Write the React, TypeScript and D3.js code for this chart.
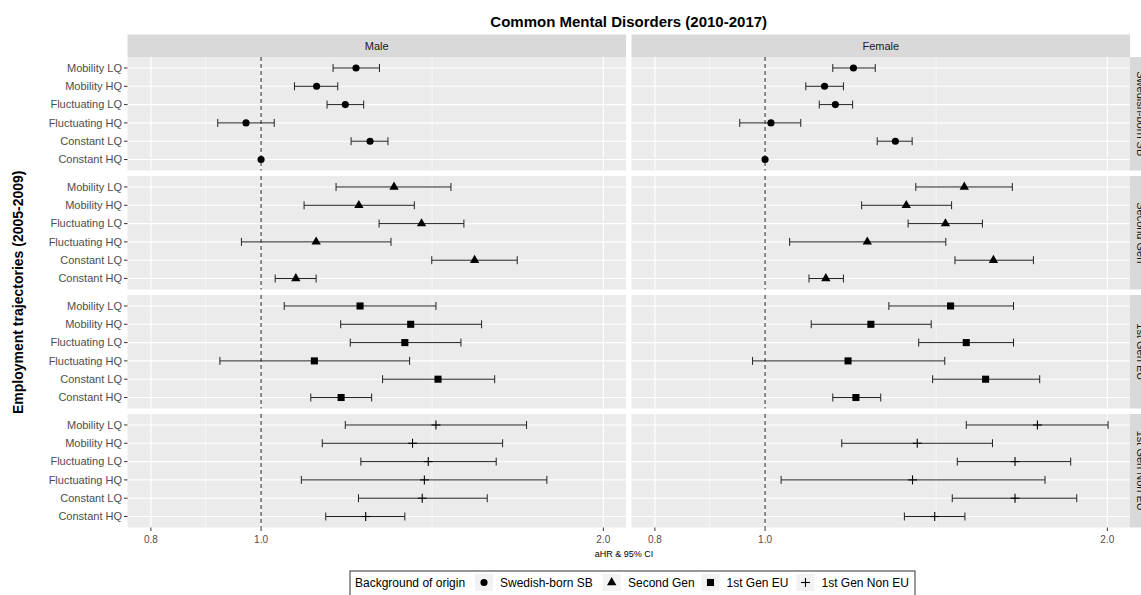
import * as d3 from "d3";

const trajectories = [
  "Mobility LQ",
  "Mobility HQ",
  "Fluctuating LQ",
  "Fluctuating HQ",
  "Constant LQ",
  "Constant HQ",
];
const origins = ["Swedish-born SB", "Second Gen", "1st Gen EU", "1st Gen Non EU"];
const sexes = ["Male", "Female"];
const xTicks = [0.8, 1.0, 2.0];
const xMinor = [0.894, 1.414];

// rows = origins, columns = trajectories (null = reference category)
const maleEst = [
  [1.212, 1.119, 1.186, 0.97, 1.247, 1.0],
  [1.309, 1.219, 1.384, 1.118, 1.541, 1.073],
  [1.222, 1.354, 1.338, 1.114, 1.431, 1.176],
  [1.425, 1.359, 1.403, 1.392, 1.386, 1.236],
];
const maleLo = [
  [1.157, 1.07, 1.143, 0.916, 1.2, null],
  [1.164, 1.091, 1.27, 0.961, 1.413, 1.029],
  [1.048, 1.175, 1.198, 0.92, 1.279, 1.106],
  [1.186, 1.132, 1.224, 1.085, 1.218, 1.14],
];
const maleHi = [
  [1.271, 1.168, 1.231, 1.027, 1.293, null],
  [1.469, 1.364, 1.508, 1.301, 1.68, 1.118],
  [1.425, 1.563, 1.499, 1.351, 1.605, 1.251],
  [1.712, 1.631, 1.61, 1.784, 1.581, 1.338],
];
const femaleEst = [
  [1.196, 1.128, 1.153, 1.012, 1.302, 1.0],
  [1.497, 1.331, 1.441, 1.23, 1.588, 1.131],
  [1.456, 1.239, 1.503, 1.183, 1.563, 1.202],
  [1.736, 1.361, 1.659, 1.348, 1.659, 1.41],
];
const femaleLo = [
  [1.147, 1.086, 1.116, 0.95, 1.255, null],
  [1.357, 1.216, 1.336, 1.051, 1.469, 1.093],
  [1.285, 1.098, 1.365, 0.975, 1.404, 1.147],
  [1.503, 1.168, 1.476, 1.033, 1.461, 1.326],
];
const femaleHi = [
  [1.25, 1.172, 1.194, 1.075, 1.347, null],
  [1.65, 1.459, 1.553, 1.442, 1.722, 1.172],
  [1.654, 1.4, 1.654, 1.439, 1.744, 1.264],
  [2.003, 1.585, 1.857, 1.763, 1.88, 1.499],
];

const FONT = "'Liberation Sans', Arial, Helvetica, sans-serif";
const W = 1141;
const H = 595;
const panelW = 498.5;
const panelH = 113.5;
const gap = 5.5;
const panelLeft = [127.5, 127.5 + panelW + gap];
const panelTop = 57;
const stripH = 22.5;

const shapes = [d3.symbolCircle, d3.symbolTriangle, d3.symbolSquare, null];
const shapeSize = [40, 38, 50, 0];

function Marker({ i, cx, cy }: { i: number; cx: number; cy: number }) {
  const s = shapes[i];
  if (!s) {
    return (
      <g stroke="#000" strokeWidth={1.1}>
        <line x1={cx - 4.5} x2={cx + 4.5} y1={cy} y2={cy} />
        <line x1={cx} x2={cx} y1={cy - 4.5} y2={cy + 4.5} />
      </g>
    );
  }
  const path = d3.symbol().type(s).size(shapeSize[i])() as string;
  return <path d={path} transform={`translate(${cx},${cy})`} fill="#000" />;
}

export default function App() {
  const x = d3.scaleLog().domain([0.763, 2.094]).range([0, panelW]);
  const y = d3.scalePoint<string>().domain(trajectories).range([0, panelH]).padding(0.6);
  const data = [
    [maleEst, maleLo, maleHi],
    [femaleEst, femaleLo, femaleHi],
  ];
  const rowTop = (r: number) => panelTop + r * (panelH + gap);
  const bottom = rowTop(3) + panelH;

  const legendItems = [
    { key: 484, label: 500 },
    { key: 611.7, label: 628 },
    { key: 710.5, label: 726.5 },
    { key: 805.5, label: 821.5 },
  ];

  return (
    <svg
      width={W}
      height={H}
      style={{ position: "absolute", left: 0, top: 0, background: "#fff" }}
      fontFamily={FONT}
    >
      <rect width={W} height={H} fill="#fff" />
      <text x={628.7} y={26.5} textAnchor="middle" fontSize={15} fontWeight="bold" fill="#000">
        Common Mental Disorders (2010-2017)
      </text>

      {/* top strips */}
      {sexes.map((s, c) => (
        <g key={s}>
          <rect x={panelLeft[c]} y={panelTop - stripH} width={panelW} height={stripH} fill="#d9d9d9" />
          <text
            x={panelLeft[c] + panelW / 2}
            y={panelTop - stripH / 2}
            dy="0.35em"
            textAnchor="middle"
            fontSize={11}
            fill="#1a1a1a"
          >
            {s}
          </text>
        </g>
      ))}

      {/* right strips */}
      {origins.map((o, r) => (
        <g key={o}>
          <rect x={panelLeft[1] + panelW} y={rowTop(r)} width={stripH} height={panelH} fill="#d9d9d9" />
          <text
            transform={`translate(${panelLeft[1] + panelW + stripH / 2},${rowTop(r) + panelH / 2}) rotate(90)`}
            dy="0.35em"
            textAnchor="middle"
            fontSize={11}
            fill="#1a1a1a"
          >
            {o}
          </text>
        </g>
      ))}

      {origins.map((o, r) =>
        sexes.map((s, c) => {
          const [est, lo, hi] = data[c];
          const ox = panelLeft[c];
          const oy = rowTop(r);
          return (
            <g key={o + s} transform={`translate(${ox},${oy})`}>
              <rect width={panelW} height={panelH} fill="#ebebeb" />
              {xMinor.map((t) => (
                <line key={t} x1={x(t)} x2={x(t)} y1={0} y2={panelH} stroke="#fff" strokeWidth={0.6} />
              ))}
              {xTicks.map((t) => (
                <line key={t} x1={x(t)} x2={x(t)} y1={0} y2={panelH} stroke="#fff" strokeWidth={1.1} />
              ))}
              {trajectories.map((t) => (
                <line key={t} x1={0} x2={panelW} y1={y(t)} y2={y(t)} stroke="#fff" strokeWidth={1.1} />
              ))}
              <line
                x1={x(1)}
                x2={x(1)}
                y1={0}
                y2={panelH}
                stroke="#222"
                strokeWidth={1}
                strokeDasharray="4,3"
              />
              {trajectories.map((t, k) => {
                const yy = y(t) as number;
                const l = lo[r][k];
                const h = hi[r][k];
                return (
                  <g key={t}>
                    {l != null && h != null && (
                      <g stroke="#222" strokeWidth={1}>
                        <line x1={x(l)} x2={x(h)} y1={yy} y2={yy} />
                        <line x1={x(l)} x2={x(l)} y1={yy - 4} y2={yy + 4} />
                        <line x1={x(h)} x2={x(h)} y1={yy - 4} y2={yy + 4} />
                      </g>
                    )}
                    <Marker i={r} cx={x(est[r][k])} cy={yy} />
                  </g>
                );
              })}
            </g>
          );
        })
      )}

      {/* y axes */}
      {origins.map((o, r) => (
        <g key={o} transform={`translate(${panelLeft[0]},${rowTop(r)})`}>
          {trajectories.map((t) => (
            <g key={t} transform={`translate(0,${y(t)})`}>
              <line x1={-3.5} x2={0} stroke="#333" strokeWidth={1} />
              <text x={-5.5} dy="0.35em" textAnchor="end" fontSize={11} fill="#4d4d4d">
                {t}
              </text>
            </g>
          ))}
        </g>
      ))}

      {/* x axes */}
      {sexes.map((s, c) => (
        <g key={s} transform={`translate(${panelLeft[c]},${bottom})`}>
          {xTicks.map((t) => (
            <g key={t} transform={`translate(${x(t)},0)`}>
              <line y1={0} y2={3.5} stroke="#333" strokeWidth={1} />
              <text y={11.5} dy="0.35em" textAnchor="middle" fontSize={10} fill="#4d4d4d">
                {d3.format(".1f")(t)}
              </text>
            </g>
          ))}
        </g>
      ))}

      <text x={624} y={554} dy="0.35em" textAnchor="middle" fontSize={9} fill="#000">
        aHR &amp; 95% CI
      </text>
      <text
        transform={`translate(23,${(panelTop + bottom) / 2}) rotate(-90)`}
        textAnchor="middle"
        fontSize={14}
        fontWeight="bold"
        fill="#000"
      >
        Employment trajectories (2005-2009)
      </text>

      {/* legend */}
      <rect x={350} y={571} width={565} height={30} fill="#fff" stroke="#333" strokeWidth={1} />
      <text x={355} y={582.5} dy="0.35em" fontSize={12} fill="#000">
        Background of origin
      </text>
      {origins.map((o, i) => (
        <g key={o}>
          <rect x={legendItems[i].key - 9} y={574} width={18} height={17} fill="#f2f2f2" />
          <Marker i={i} cx={legendItems[i].key} cy={582.5} />
          <text x={legendItems[i].label} y={582.5} dy="0.35em" fontSize={12} fill="#000">
            {o}
          </text>
        </g>
      ))}
    </svg>
  );
}
